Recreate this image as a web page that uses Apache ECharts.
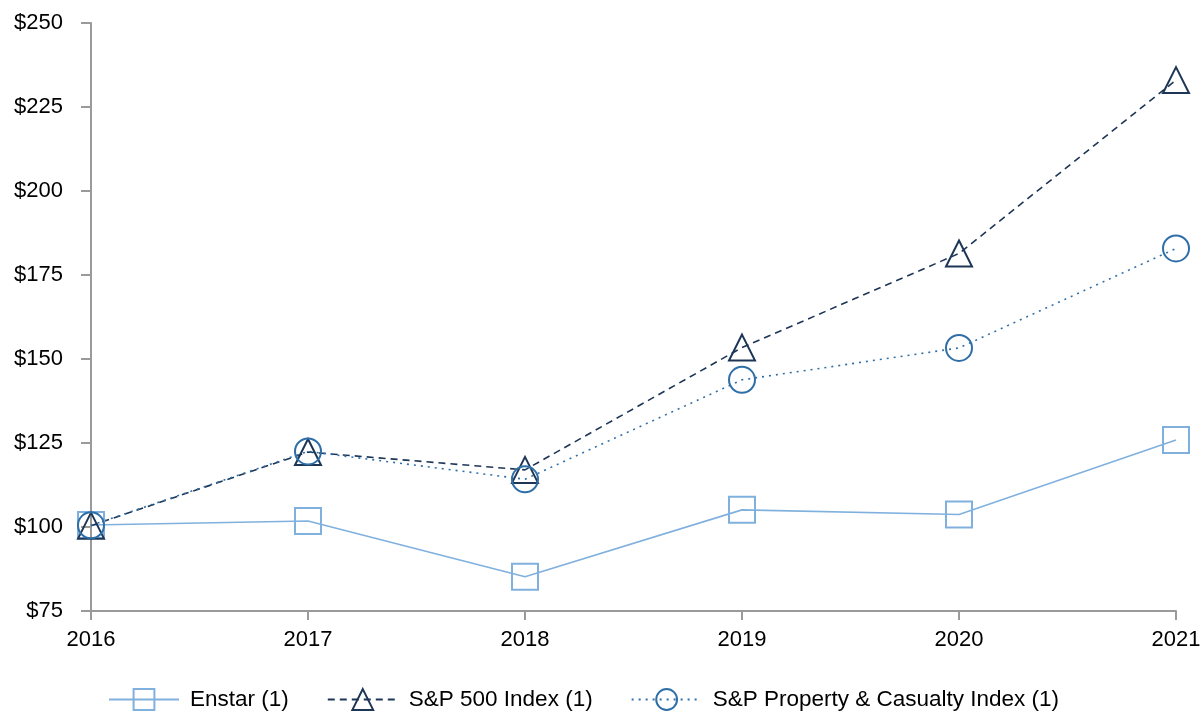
<!DOCTYPE html>
<html>
<head>
<meta charset="utf-8">
<script src="https://cdn.jsdelivr.net/npm/echarts@6/dist/echarts.min.js"></script>
<style>
  html, body { margin: 0; padding: 0; background: #fff; }
  #chart { width: 1201px; height: 711px; }
</style>
</head>
<body>
<div id="chart"></div>
<script>
const years = ['2016', '2017', '2018', '2019', '2020', '2021'];
const enstar = [100.6, 101.8, 85.2, 105.1, 103.7, 125.9];
const sp500 = [100.4, 122.3, 117.0, 153.4, 181.4, 233.0];
const spPC = [100.5, 122.5, 114.2, 143.8, 153.3, 182.9];

const FONT = '"Liberation Sans", Arial, sans-serif';

function makeSeries(name, data, color, symbol, lineType) {
  return {
    name: name,
    type: 'line',
    data: data,
    symbol: symbol,
    symbolSize: 26,
    showAllSymbol: true,
    lineStyle: { color: color, width: 1.6, type: lineType },
    itemStyle: { color: 'rgba(0,0,0,0)', borderColor: color, borderWidth: 2 },
    emphasis: { disabled: true },
    z: 2
  };
}

let chart = echarts.init(document.getElementById('chart'), null, { renderer: 'canvas' });

let option = {
  animation: false,
  backgroundColor: '#fff',
  grid: { left: 91, right: 25, top: 23, bottom: 100, containLabel: false, outerBoundsMode: 'none' },
  xAxis: {
    type: 'category',
    data: years,
    boundaryGap: false,
    axisLine: { lineStyle: { color: '#9a9a9a', width: 2 } },
    axisTick: { show: true, length: 9, alignWithLabel: true, lineStyle: { color: '#9a9a9a', width: 2 } },
    axisLabel: { color: '#000', fontSize: 22, fontFamily: FONT, margin: 18 },
    splitLine: { show: false }
  },
  yAxis: {
    type: 'value',
    min: 75,
    max: 250,
    interval: 25,
    axisLine: { show: true, lineStyle: { color: '#9a9a9a', width: 2 } },
    axisTick: { show: true, length: 10, lineStyle: { color: '#9a9a9a', width: 2 } },
    axisLabel: { color: '#000', fontSize: 22, fontFamily: FONT, margin: 28, formatter: v => '$' + v },
    splitLine: { show: false }
  },
  legend: {
    top: 688,
    left: 108,
    padding: 0,
    itemWidth: 70,
    itemHeight: 26,
    itemGap: 38,
    textStyle: { color: '#000', fontSize: 22.5, fontFamily: FONT, padding: [0, 0, 0, 6] },
    data: ['Enstar (1)', 'S&P 500 Index (1)', 'S&P Property & Casualty Index (1)']
  },
  series: [
    makeSeries('Enstar (1)', enstar, '#80b1de', 'rect', 'solid'),
    makeSeries('S&P 500 Index (1)', sp500, '#1e3656', 'triangle', [7, 5]),
    makeSeries('S&P Property & Casualty Index (1)', spPC, '#2f6fa8', 'circle', [2, 5])
  ]
};

chart.setOption(option);
</script>
</body>
</html>
